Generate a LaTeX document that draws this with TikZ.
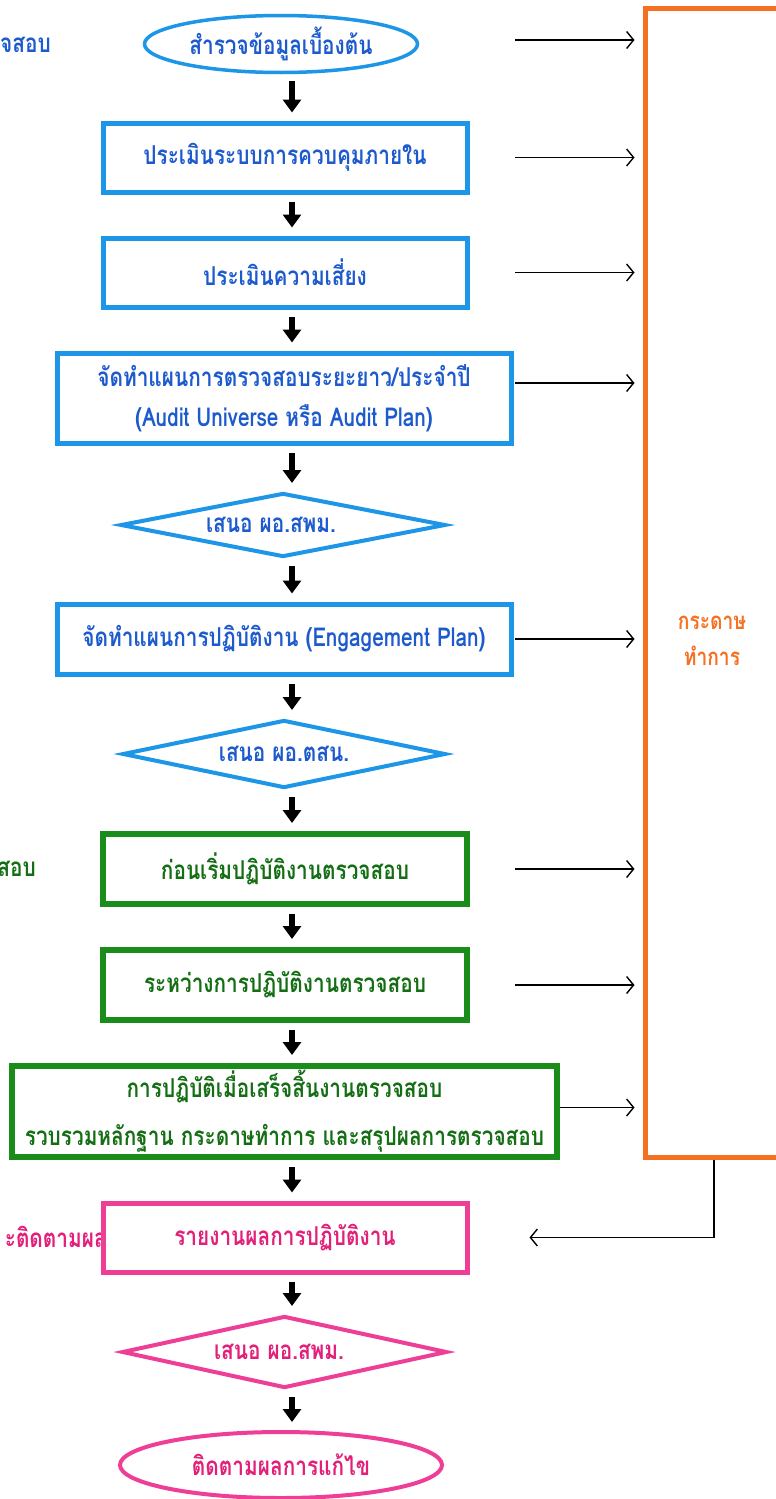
\documentclass[tikz,border=0pt]{standalone}
\usepackage{fontspec}
\usetikzlibrary{shapes.geometric,arrows.meta,calc}
\newfontfamily\thaifont[Script=Thai,FakeStretch=0.8]{Loma}
\definecolor{bline}{RGB}{30,150,232}
\definecolor{btext}{RGB}{28,90,205}
\definecolor{gline}{RGB}{25,140,25}
\definecolor{gtext}{RGB}{20,110,20}
\definecolor{pline}{RGB}{238,62,150}
\definecolor{ptext}{RGB}{226,32,122}
\definecolor{oline}{RGB}{245,112,32}
\begin{document}
\begin{tikzpicture}[x=1pt,y=-1pt,
  txt/.style={font=\thaifont\bfseries\fontsize{26}{40}\selectfont, align=center, inner sep=0pt},
  bbox/.style={txt, draw=bline, text=btext, line width=5pt, fill=white, rectangle},
  gbox/.style={txt, draw=gline, text=gtext, line width=6pt, fill=white, rectangle},
  pbox/.style={txt, draw=pline, text=ptext, line width=5pt, fill=white, rectangle},
  bdia/.style={draw=bline, line width=4pt, fill=white, diamond, inner sep=0pt},
  pdia/.style={draw=pline, line width=4pt, fill=white, diamond, inner sep=0pt},
  blk/.style={line width=6.5pt, -{Triangle[width=18pt,length=13pt]}, shorten <=7pt, shorten >=8pt},
  thinarr/.style={line width=1.4pt, -{Straight Barb[length=7pt,width=17pt]}, shorten >=8pt}
]
\clip (0,0) rectangle (776,1499);
\useasboundingbox (0,0) rectangle (776,1499);
\fill[white] (0,0) rectangle (776,1499);

\coordinate (ax) at (292,0);
\coordinate (sx) at (515,0);
\coordinate (rx) at (714,0);

% left side fragments
\node[txt, text=btext, anchor=east] (l1) at (51,45) {จสอบ};
\node[txt, text=gtext, anchor=east] (l2) at (36,869) {สอบ};
\node[txt, text=ptext, anchor=east] (l3) at (107,1237) {ะติดตามผล};

% main column
\node[txt, draw=bline, text=btext, line width=3.5pt, fill=white, ellipse, minimum width=273pt, minimum height=57pt] (n1) at (281,44) {สำรวจข้อมูลเบื้องต้น};
\node[bbox, minimum width=364pt, minimum height=69pt] (n2) at (285,157.5) {ประเมินระบบการควบคุมภายใน};
\node[bbox, minimum width=364pt, minimum height=69pt] (n3) at (285,272.5) {ประเมินความเสี่ยง};
\node[bbox, minimum width=454pt, minimum height=90pt] (n4) at (284,398) {จัดทำแผนการตรวจสอบระยะยาว/ประจำปี\\(Audit Universe หรือ Audit Plan)};
\node[bdia, aspect=5.08, minimum width=325pt, minimum height=64pt] (n5) at (283,525) {};
\node[txt, text=btext] (t5) at (271,525) {เสนอ ผอ.สพม.};
\node[bbox, minimum width=454pt, minimum height=70pt] (n6) at (284,639) {จัดทำแผนการปฏิบัติงาน (Engagement Plan)};
\node[bdia, aspect=4.75, minimum width=323pt, minimum height=68pt] (n7) at (284,754) {};
\node[txt, text=btext] (t7) at (284,754) {เสนอ ผอ.ตสน.};
\node[gbox, minimum width=364pt, minimum height=70pt] (n8) at (285,869) {ก่อนเริ่มปฏิบัติงานตรวจสอบ};
\node[gbox, minimum width=364pt, minimum height=70pt] (n9) at (285,985) {ระหว่างการปฏิบัติงานตรวจสอบ};
\node[gbox, minimum width=545pt, minimum height=91pt, font=\thaifont\bfseries\fontsize{26}{48}\selectfont] (n10) at (284.5,1111.5) {การปฏิบัติเมื่อเสร็จสิ้นงานตรวจสอบ\\รวบรวมหลักฐาน กระดาษทำการ และสรุปผลการตรวจสอบ};
\node[pbox, minimum width=364pt, minimum height=69pt] (n11) at (285,1237.5) {รายงานผลการปฏิบัติงาน};
\node[pdia, aspect=4.5, minimum width=325pt, minimum height=72pt] (n12) at (284.5,1352) {};
\node[txt, text=ptext] (t12) at (279,1352) {เสนอ ผอ.สพม.};
\node[txt, draw=pline, text=ptext, line width=4pt, fill=white, ellipse, minimum width=322pt, minimum height=66pt] (n13) at (281,1465) {ติดตามผลการแก้ไข};

% working paper box
\node[draw=oline, line width=5pt, minimum width=155pt, minimum height=1149pt, inner sep=0pt] (paper) at (722.5,582.5) {};
\node[txt, text=oline, font=\thaifont\bfseries\fontsize{24}{36}\selectfont] (ptxt) at (712,641) {กระดาษ\\ทำการ};

% block arrows
\foreach \a/\b in {n1/n2,n2/n3,n3/n4,n4/n5,n5/n6,n6/n7,n7/n8,n8/n9,n9/n10,n10/n11,n11/n12,n12/n13}
  \draw[blk] (\a.south -| ax) -- (\b.north -| ax);

% thin arrows to working paper
\draw[thinarr] ([yshift=4pt]n1.east -| sx) -- ([yshift=4pt]n1.east -| paper.west);
\draw[thinarr] (n2.east -| sx) -- (n2.east -| paper.west);
\draw[thinarr] (n3.east -| sx) -- (n3.east -| paper.west);
\draw[thinarr] ([yshift=15pt]n4.east -| sx) -- ([yshift=15pt]n4.east -| paper.west);
\draw[thinarr] (n6.east -| sx) -- (n6.east -| paper.west);
\draw[thinarr] (n8.east -| sx) -- (n8.east -| paper.west);
\draw[thinarr] (n9.east -| sx) -- (n9.east -| paper.west);
\draw[thinarr] ([yshift=4pt]n10.east) -- ([yshift=4pt]n10.east -| paper.west);
% return from working paper
\draw[thinarr, shorten >=60pt] (paper.south -| rx) |- (n11.east);
\end{tikzpicture}
\end{document}
